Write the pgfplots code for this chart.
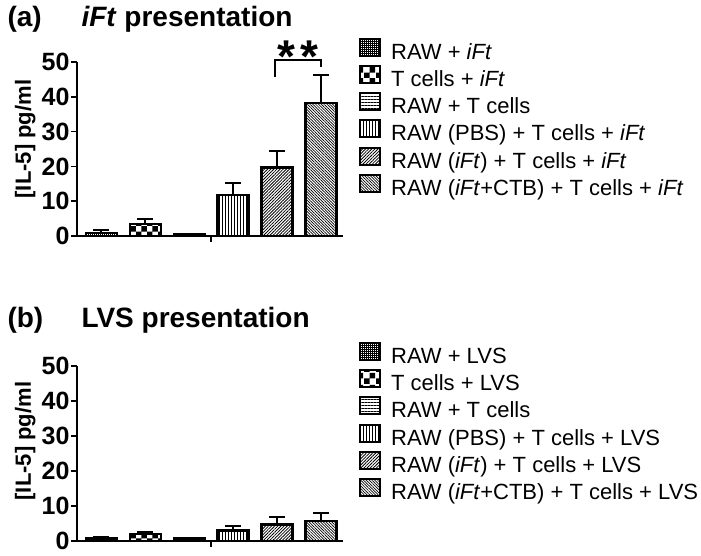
\documentclass[border=0pt]{standalone}
\usepackage{fontspec}
\setmainfont{Liberation Sans}
\usepackage{pgfplots}
\pgfplotsset{compat=1.18}
\usetikzlibrary{patterns,patterns.meta}

\pgfplotsset{
  panel/.style={
    scale only axis, width=266pt,
    xmin=0.45, xmax=6.5, ymin=0, ymax=50,
    axis lines=left, axis line style={line width=1.5pt, -},
    ytick={0,10,...,50}, xtick={3.5}, xticklabels={},
    tick align=outside, major tick length=6pt,
    tick style={line width=1.5pt, black},
    /pgf/number format/assume math mode=true,
    y tick label style={font=\fontsize{25}{25}\selectfont\bfseries, xshift=2pt},
    ylabel={[IL-5] pg/ml},
    ylabel style={font=\fontsize{22}{22}\selectfont\bfseries, anchor=center},
    clip=false,
    error bars/y dir=plus, error bars/y explicit,
    error bars/error bar style={line width=2pt, black},
    error bars/error mark options={rotate=90, mark size=8pt, line width=2pt, black},
    legend style={draw=none, fill=none, anchor=north west, inner sep=0pt,
      font=\fontsize{22}{22}\selectfont, row sep=0.6pt,
      nodes={inner sep=0pt, text height=16pt, text depth=5pt},
      /tikz/every odd column/.append style={column sep=10pt}},
    legend cell align=left,
  },
  bars/.style={ybar, bar width=31pt, bar shift=0pt, draw=black, line width=2.2pt,
    legend image code/.code={\draw[##1, line width=2pt] (0pt,-2pt) rectangle (20pt,15pt);}},
}

\begin{document}
\begin{tikzpicture}
\useasboundingbox (0pt,0pt) rectangle (701pt,555pt);

% panel (a)
\node[anchor=base west, font=\fontsize{28}{28}\selectfont\bfseries] at (4pt,528pt) {(a)};
\node[anchor=base west, font=\fontsize{28}{28}\selectfont\bfseries] at (78pt,528pt) {\textit{iFt} presentation};
\begin{axis}[panel, height=174pt, at={(77pt,319pt)}, anchor=south west,
  ylabel style={at={(axis description cs:-0.195,0.557)}},
  legend style={at={(1.06,1.138)}}]
\addplot[bars, pattern={Hatch[distance=2pt, line width=0.6pt]}] coordinates {(1,0.8) +- (0,0.9)};
\addlegendentry{RAW + \textit{iFt}}
\addplot[bars, pattern=checkerboard] coordinates {(2,3.5) +- (0,1.3)};
\addlegendentry{T cells + \textit{iFt}}
\addplot[bars, pattern={Lines[angle=0, distance=3pt, line width=0.8pt]}] coordinates {(3,0.5) +- (0,0.2)};
\addlegendentry{RAW + T cells}
\addplot[bars, pattern={Lines[angle=90, distance=3pt, line width=1pt]}] coordinates {(4,11.8) +- (0,3.4)};
\addlegendentry{RAW (PBS) + T cells + \textit{iFt}}
\addplot[bars, pattern={Lines[angle=45, distance=2.2pt, line width=0.8pt]}] coordinates {(5,19.7) +- (0,4.7)};
\addlegendentry{RAW (\textit{iFt}) + T cells + \textit{iFt}}
\addplot[bars, pattern={Lines[angle=-45, distance=2pt, line width=0.7pt]}] coordinates {(6,38.2) +- (0,8.0)};
\addlegendentry{RAW (\textit{iFt}+CTB) + T cells + \textit{iFt}}
\draw[line width=2pt] (axis cs:4.95,45.7) -- (axis cs:4.95,50.6) -- (axis cs:6,50.6) -- (axis cs:6,48.6);
\node[anchor=base, font=\fontsize{46}{46}\selectfont\bfseries] at (axis cs:5.48,47.0) {*\hspace{5pt}*};
\end{axis}

% panel (b)
\node[anchor=base west, font=\fontsize{28}{28}\selectfont\bfseries] at (4pt,228pt) {(b)};
\node[anchor=base west, font=\fontsize{28}{28}\selectfont\bfseries] at (78pt,228pt) {LVS presentation};
\begin{axis}[panel, height=175pt, at={(77pt,14pt)}, anchor=south west,
  ylabel style={at={(axis description cs:-0.195,0.571)}},
  legend style={at={(1.06,1.137)}}]
\addplot[bars, pattern={Hatch[distance=2pt, line width=0.6pt]}] coordinates {(1,0.9) +- (0,0.3)};
\addlegendentry{RAW + LVS}
\addplot[bars, pattern=checkerboard] coordinates {(2,2.1) +- (0,0.4)};
\addlegendentry{T cells + LVS}
\addplot[bars, pattern={Lines[angle=0, distance=3pt, line width=0.8pt]}] coordinates {(3,0.7) +- (0,0.2)};
\addlegendentry{RAW + T cells}
\addplot[bars, pattern={Lines[angle=90, distance=3pt, line width=1pt]}] coordinates {(4,3.0) +- (0,1.2)};
\addlegendentry{RAW (PBS) + T cells + LVS}
\addplot[bars, pattern={Lines[angle=45, distance=2.2pt, line width=0.8pt]}] coordinates {(5,4.7) +- (0,2.3)};
\addlegendentry{RAW (\textit{iFt}) + T cells + LVS}
\addplot[bars, pattern={Lines[angle=-45, distance=2pt, line width=0.7pt]}] coordinates {(6,5.8) +- (0,2.2)};
\addlegendentry{RAW (\textit{iFt}+CTB) + T cells + LVS}
\end{axis}
\end{tikzpicture}
\end{document}
